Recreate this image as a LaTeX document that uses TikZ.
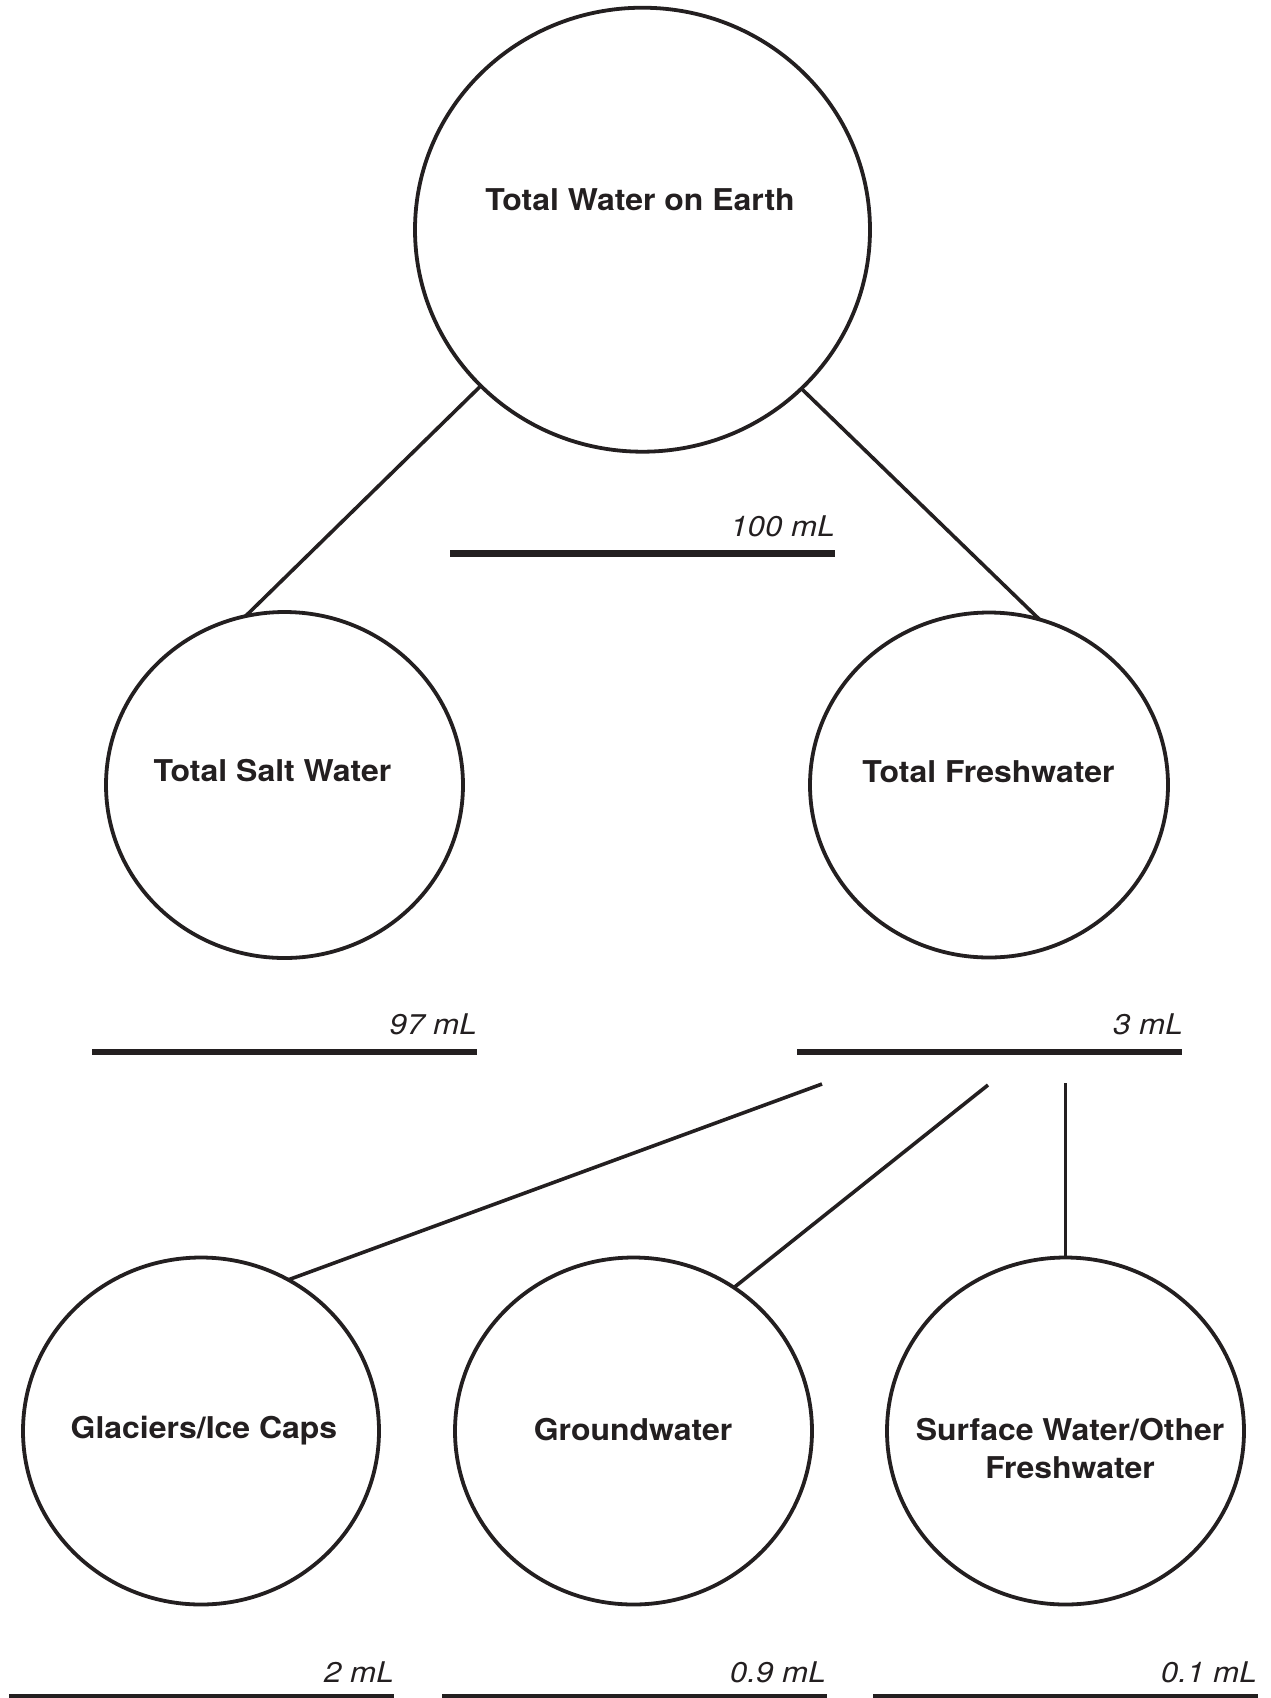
\documentclass[tikz,border=0pt]{standalone}
\usepackage{fontspec}
\setmainfont{TeX Gyre Heros}
\newfontfamily\namefont{TeX Gyre Heros}[FakeStretch=1.065]
\newfontfamily\qtyfont{TeX Gyre Heros}[FakeStretch=1.1]
\usetikzlibrary{shapes.geometric}
\definecolor{ink}{HTML}{231F20}

\begin{document}
\begin{tikzpicture}[x=1pt, y=-1pt,
  pool/.style={ellipse, draw=ink, line width=3.8pt, inner sep=0pt, outer sep=0pt},
  poolname/.style={font=\namefont\bfseries\fontsize{30}{38}\selectfont, text=ink,
                   anchor=base, align=center, inner sep=0pt},
  qty/.style={font=\qtyfont\itshape\fontsize{28.5}{32}\selectfont, text=ink,
              anchor=base east, inner sep=0pt},
  bar/.style={fill=ink, minimum width=385pt, minimum height=6.5pt,
              inner sep=0pt, outer sep=0pt},
  link/.style={draw=ink, line width=3.6pt}]

  \useasboundingbox (0,0) rectangle (1270,1698);

  % water pools
  \node[pool, minimum width=455pt, minimum height=444pt] (earth) at (642.5,229.7) {};
  \node[pool, minimum width=357pt, minimum height=346pt] (salt)  at (284.5,785) {};
  \node[pool, minimum width=358pt, minimum height=345pt] (fresh) at (989,785) {};
  \node[pool, minimum width=356pt, minimum height=347pt] (ice)    at (201,1431) {};
  \node[pool, minimum width=357pt, minimum height=347pt] (ground) at (633.5,1431) {};
  \node[pool, minimum width=357pt, minimum height=347pt] (surf)   at (1065.5,1431) {};

  % pool names
  \node[poolname] (earth-t)  at (640,210.5) {Total Water on Earth};
  \node[poolname] (salt-t)   at (272.5,781) {Total Salt Water};
  \node[poolname] (fresh-t)  at (988.5,782) {Total Freshwater};
  \node[poolname] (ice-t)    at (204,1438)  {Glaciers/Ice Caps};
  \node[poolname] (ground-t) at (633,1440)  {Groundwater};
  \node[poolname] (surf-t)   at (1070,1478) {Surface Water/Other\\Freshwater};

  % volume bars
  \node[bar] (b-earth)  at (642.5,553.5) {};
  \node[bar] (b-salt)   at (284.5,1052) {};
  \node[bar] (b-fresh)  at (989.5,1052) {};
  \node[bar] (b-ice)    at (201,1697) {};
  \node[bar] (b-ground) at (634,1697) {};
  \node[bar] (b-surf)   at (1065,1697) {};

  % volumes
  \node[qty] (q-earth)  at (835,536.5) {100 mL};
  \node[qty] (q-salt)   at (477,1034)  {97 mL};
  \node[qty] (q-fresh)  at (1183,1034) {3 mL};
  \node[qty] (q-ice)    at (394,1682)  {2 mL};
  \node[qty] (q-ground) at (826,1682)  {0.9 mL};
  \node[qty] (q-surf)   at (1257,1682) {0.1 mL};

  % branch origins below the freshwater bar
  \coordinate (f1) at (822,1084);
  \coordinate (f2) at (988,1085);
  \coordinate (f3) at (1065.5,1083);

  % connectors
  \draw[link] (earth.224.7) -- (salt.103);
  \draw[link] (earth.315.1) -- (fresh.73.8);
  \draw[link] (f1) -- (ice.60.9);
  \draw[link] (f2) -- (ground.55.7);
  \draw[link] (f3) -- (surf.90);
\end{tikzpicture}
\end{document}
